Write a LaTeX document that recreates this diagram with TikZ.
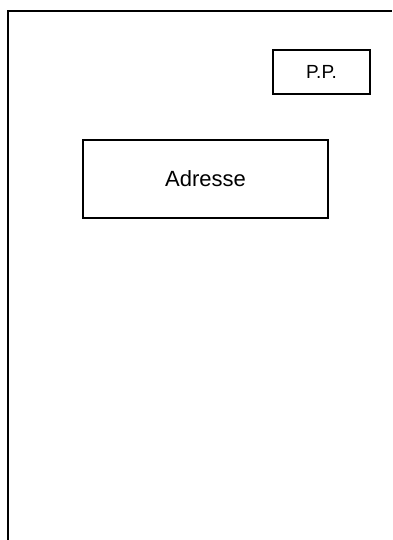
\documentclass[tikz,border=0pt]{standalone}
\usepackage{fontspec}
\setmainfont{Liberation Sans}
\begin{document}
\begin{tikzpicture}[x=1pt,y=1pt,
  boxstyle/.style={draw=black,line width=1.3pt,inner sep=0pt,anchor=center},
  framestyle/.style={draw=black,line width=1.6pt}]
\useasboundingbox (0,0) rectangle (392,540);
\coordinate (fbl) at (8,0);
\coordinate (ftl) at (8,529);
\coordinate (ftr) at (392,529);
\draw[framestyle] (fbl) -- (ftl) -- (ftr);
\node[boxstyle,minimum width=97pt,minimum height=44pt,font=\fontsize{19}{22}\selectfont] (pp) at (321.5,468) {P.P.};
\node[boxstyle,minimum width=245pt,minimum height=78pt,font=\fontsize{22}{26}\selectfont] (adr) at (205.5,361) {Adresse};
\end{tikzpicture}
\end{document}
